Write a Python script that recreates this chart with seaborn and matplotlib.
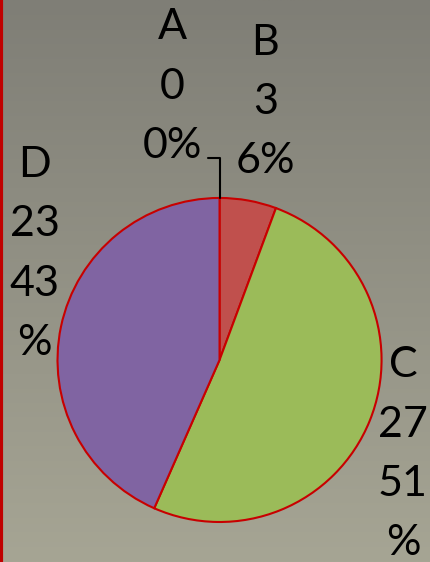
import numpy as np
import matplotlib
matplotlib.use('Agg')
import matplotlib.pyplot as plt
import seaborn as sns

# Data
categories = ['A', 'B', 'C', 'D']
counts = [0, 3, 27, 23]
percent_text = ['0%', '6%', '51\n%', '43\n%']
slice_colors = ['#4f81bd', '#c0504d', '#9bbb59', '#8064a2']

# label anchor (axes fraction), picked to sit where the reference puts them
label_pos = {'A': (0.40, 0.846), 'B': (0.617, 0.818), 'C': (0.937, 0.192), 'D': (0.081, 0.548)}

sns.set_theme(style='white')
plt.rcParams['font.family'] = ['Lato', 'DejaVu Sans']

fig = plt.figure(figsize=(4.30, 5.62), dpi=100)

# gradient background
bg = fig.add_axes([0, 0, 1, 1])
grad = np.linspace(0, 1, 256).reshape(-1, 1)
top = np.array([127, 126, 118]) / 255
bottom = np.array([166, 165, 148]) / 255
img = top + (bottom - top) * grad[:, :, None]
bg.imshow(img, aspect='auto', extent=[0, 1, 0, 1])
bg.axvline(0.002, color='#c00000', lw=3)
bg.set_axis_off()

ax = fig.add_axes([0, 0, 1, 1])
ax.patch.set_alpha(0)
wedges, _ = ax.pie(counts, colors=slice_colors, startangle=90, counterclock=False,
                   wedgeprops=dict(edgecolor='#c80000', linewidth=1.5))
ax.set_xlim(-1.355, 1.299)
ax.set_ylim(-1.247, 2.222)
ax.set_aspect('auto')
ax.set_axis_off()

# leader line for the empty slice A
th = np.deg2rad(wedges[0].theta1)
x0, y0 = np.cos(th), np.sin(th)
ax.plot([x0, x0, x0 - 0.07], [y0, y0 + 0.245, y0 + 0.245], color='black', lw=1.5)

for cat, n, pct in zip(categories, counts, percent_text):
    px, py = label_pos[cat]
    ax.text(px, py, f'{cat}\n{n}\n{pct}', transform=ax.transAxes, ha='center', va='center',
            fontsize=31, color='black', linespacing=1.68)

fig.savefig('out.png', dpi=100)
